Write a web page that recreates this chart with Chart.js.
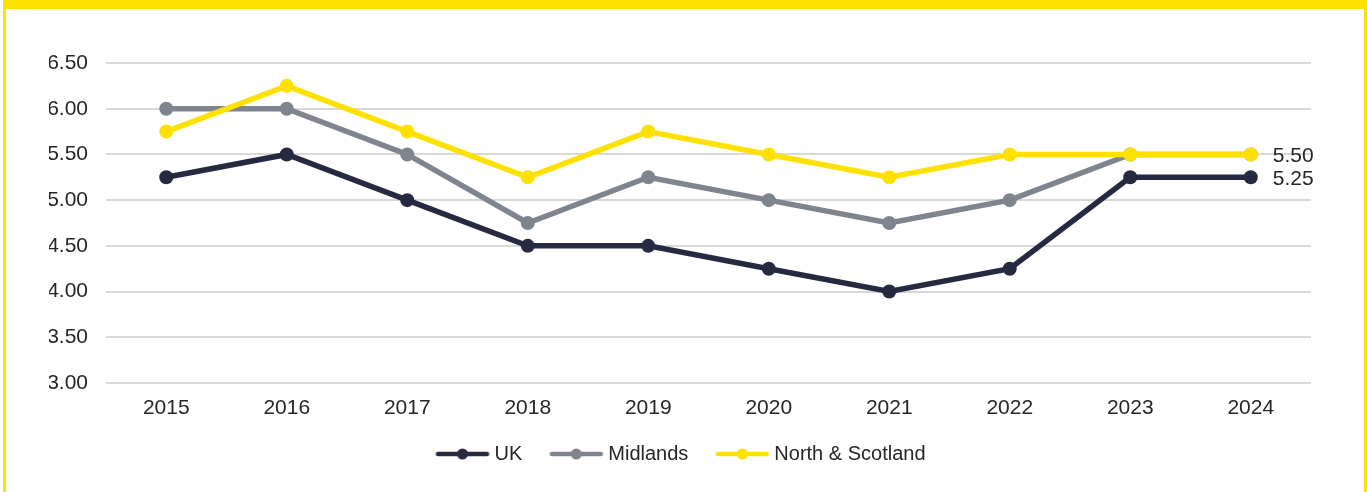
<!DOCTYPE html>
<html>
<head>
<meta charset="utf-8">
<script src="https://cdn.jsdelivr.net/npm/chart.js@4"></script>
<style>
  html, body { margin: 0; padding: 0; background: #fff; }
  #wrap { position: relative; width: 1367px; height: 492px; }
  #frame { position: absolute; left: 3px; top: 0; right: 0; bottom: 0;
           border-top: 9px solid #ffe100; border-left: 3px solid #ffe100; border-right: 3px solid #ffe100;
           pointer-events: none; }
</style>
</head>
<body>
<div id="wrap">
  <canvas id="myChart" width="1367" height="492"></canvas>
  <div id="frame"></div>
</div>
<script>
const years = ['2015', '2016', '2017', '2018', '2019', '2020', '2021', '2022', '2023', '2024'];
const ukRates = [5.25, 5.50, 5.00, 4.50, 4.50, 4.25, 4.00, 4.25, 5.25, 5.25];
const midlandsRates = [6.00, 6.00, 5.50, 4.75, 5.25, 5.00, 4.75, 5.00, 5.50, 5.50];
const northRates = [5.75, 6.25, 5.75, 5.25, 5.75, 5.50, 5.25, 5.50, 5.50, 5.50];
const seriesNames = ['UK', 'Midlands', 'North & Scotland'];
// only these series get a value printed next to the last point
const labelledSeries = ['UK', 'North & Scotland'];

const colours = ['#262a40', '#7f858f', '#ffe100'];
const font = 'Liberation Sans, Arial, sans-serif';

// little line-with-dot picture for the legend (line sits a bit right of centre)
function legendMark(colour) {
  const c = document.createElement('canvas');
  c.width = 64; c.height = 14;
  const g = c.getContext('2d');
  g.strokeStyle = colour;
  g.lineWidth = 4.5;
  g.lineCap = 'round';
  g.beginPath(); g.moveTo(10.5, 7); g.lineTo(59.5, 7); g.stroke();
  g.fillStyle = colour;
  g.beginPath(); g.arc(35, 7, 5.5, 0, Math.PI * 2); g.fill();
  return c;
}

const endLabels = {
  id: 'endLabels',
  afterDatasetsDraw(chart) {
    const ctx = chart.ctx;
    ctx.save();
    ctx.font = '21px ' + font;
    ctx.fillStyle = '#262626';
    ctx.textBaseline = 'middle';
    chart.data.datasets.forEach((ds, i) => {
      if (!labelledSeries.includes(ds.label)) return;
      const meta = chart.getDatasetMeta(i);
      const pt = meta.data[meta.data.length - 1];
      const v = ds.data[ds.data.length - 1];
      ctx.fillText(v.toFixed(2), pt.x + 22, pt.y + 2);
    });
    ctx.restore();
  }
};

const ctx = document.getElementById('myChart');

new Chart(ctx, {
  type: 'line',
  data: {
    labels: years,
    datasets: [{
      label: seriesNames[0],
      data: ukRates,
      order: 1
    }, {
      label: seriesNames[1],
      data: midlandsRates,
      order: 2
    }, {
      label: seriesNames[2],
      data: northRates,
      order: 0
    }].map((d, i) => Object.assign(d, {
      borderColor: colours[i],
      backgroundColor: colours[i],
      borderWidth: 5.5,
      pointRadius: 7,
      pointHoverRadius: 7,
      pointBorderWidth: 0,
      tension: 0
    }))
  },
  options: {
    responsive: false,
    animation: false,
    layout: {
      padding: { top: 63, right: 56, left: 49, bottom: 18 }
    },
    plugins: {
      tooltip: { enabled: false },
      legend: {
        position: 'bottom',
        labels: {
          color: '#262626',
          font: { family: font, size: 20 },
          usePointStyle: true,
          pointStyleWidth: 50,
          padding: 26,
          sort: (a, b) => a.datasetIndex - b.datasetIndex,
          generateLabels: (chart) => chart.data.datasets.map((ds, i) => ({
            text: ds.label,
            datasetIndex: i,
            pointStyle: legendMark(colours[i]),
            fillStyle: colours[i],
            strokeStyle: colours[i],
            lineWidth: 0,
            fontColor: '#262626'
          }))
        }
      }
    },
    scales: {
      x: {
        offset: true,
        afterFit: (s) => { s.height = 35; },
        grid: { display: false, drawTicks: false },
        border: { display: false },
        ticks: { color: '#262626', font: { family: font, size: 21, lineHeight: 1 }, padding: 15 }
      },
      y: {
        min: 3,
        max: 6.5,
        afterFit: (s) => { s.width = 57; },
        grid: { color: '#d9d9d9', lineWidth: 2, drawTicks: false },
        border: { display: false },
        ticks: {
          stepSize: 0.5,
          color: '#262626',
          font: { family: font, size: 21 },
          padding: 18,
          callback: (v) => v.toFixed(2)
        }
      }
    }
  },
  plugins: [endLabels]
});
</script>
</body>
</html>
